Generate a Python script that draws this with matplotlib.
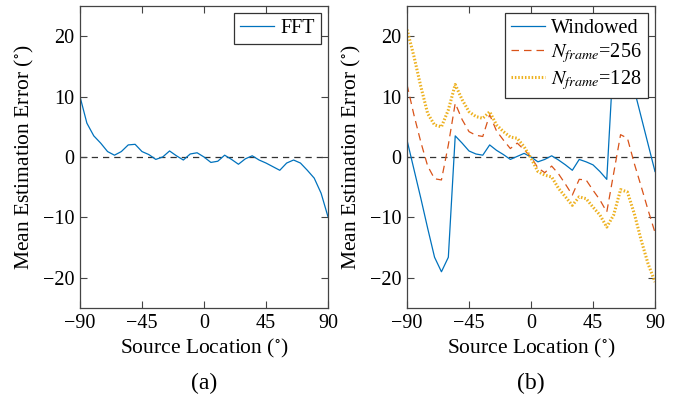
import matplotlib
matplotlib.use("Agg")
import matplotlib.pyplot as plt

plt.rcParams["font.family"] = ["Liberation Serif", "DejaVu Serif"]
plt.rcParams["mathtext.fontset"] = "stix"

# source locations (degrees), 5 degree steps
angles = list(range(-90, 91, 5))

# (a) FFT
fft_err = [10.0, 5.6, 3.5, 2.3, 0.9, 0.3, 0.9, 2.0, 2.1, 0.9,
           0.4, -0.4, 0.0, 1.0, 0.2, -0.5, 0.5, 0.7, 0.0, -0.9,
           -0.7, 0.3, -0.4, -1.2, -0.3, 0.2, -0.5, -1.0, -1.6, -2.2,
           -1.0, -0.5, -1.0, -2.2, -3.5, -6.0, -9.9]

# (b) windowed and framed
windowed = [2.8, -2.0, -6.8, -11.8, -16.6, -19.0, -16.6, 3.5, 2.3, 1.0,
            0.5, 0.3, 2.0, 1.1, 0.4, -0.4, 0.1, 0.6, 0.0, -0.8,
            -0.4, 0.2, -0.5, -1.3, -2.2, -0.4, -0.8, -1.3, -2.4, -3.7,
            17.0, 18.0, 15.6, 11.1, 6.6, 2.1, -2.4]
frame256 = [12.0, 7.0, 2.5, -1.5, -3.6, -3.8, 2.0, 8.9, 6.2, 4.2,
            3.6, 3.4, 7.0, 4.3, 2.8, 1.4, 2.3, 1.2, 0.0, -1.8,
            -2.6, -1.5, -2.8, -4.5, -6.3, -3.7, -3.8, -5.5, -7.1, -9.1,
            -2.7, 3.7, 3.1, -1.1, -4.9, -8.8, -12.5]
frame128 = [21.1, 16.7, 11.7, 7.2, 5.3, 5.0, 7.8, 12.0, 9.5, 7.5,
            6.7, 6.4, 7.5, 5.3, 4.2, 3.3, 3.1, 1.7, -0.2, -2.4,
            -3.0, -3.3, -5.2, -6.6, -8.0, -6.6, -6.9, -8.3, -9.6, -11.6,
            -9.6, -5.4, -5.8, -9.4, -13.8, -17.7, -20.7]

blue = "#0072BD"
orange = "#D95319"
yellow = "#EDB120"

fig = plt.figure(figsize=(6.89, 3.99), dpi=100)
ax_a = fig.add_axes([80 / 689, 91 / 399, 248 / 689, 302 / 399])
ax_b = fig.add_axes([407 / 689, 91 / 399, 248 / 689, 302 / 399])


def style_axes(ax):
    ax.set_xlim(-90, 90)
    ax.set_ylim(-25, 25)
    ax.set_xticks([-90, -45, 0, 45, 90])
    ax.set_yticks([-20, -10, 0, 10, 20])
    ax.tick_params(direction="in", top=True, right=True, length=5,
                   width=0.8, labelsize=14.5, color="#444444", pad=4)
    for s in ax.spines.values():
        s.set_color("#444444")
        s.set_linewidth(0.9)
    ax.axhline(0, color="#333333", linestyle=(0, (5, 4)), linewidth=0.9, zorder=1)
    ax.set_xlabel("Source Location ($^{\\circ}$)", fontsize=15.5, labelpad=3)
    ax.set_ylabel("Mean Estimation Error ($^{\\circ}$)", fontsize=15.5, labelpad=5)


style_axes(ax_a)
ax_a.plot(angles, fft_err, color=blue, linewidth=0.9, label="FFT")
leg = ax_a.legend(loc="upper right", fontsize=14.5, fancybox=False,
                  edgecolor="#333333", framealpha=1, borderaxespad=0.35,
                  handlelength=1.7, handletextpad=0.3, borderpad=0.3)
leg.get_frame().set_linewidth(0.9)

style_axes(ax_b)
ax_b.plot(angles, windowed, color=blue, linewidth=0.9, label="Windowed")
ax_b.plot(angles, frame256, color=orange, linewidth=0.9,
          linestyle=(0, (6, 4)), label="$N_{frame}$=256")
ax_b.plot(angles, frame128, color=yellow, linewidth=2.2,
          linestyle=(0, (0.5, 0.6)), label="$N_{frame}$=128")
leg = ax_b.legend(loc="upper right", fontsize=14.5, fancybox=False,
                  edgecolor="#333333", framealpha=1, borderaxespad=0.35,
                  handlelength=1.7, handletextpad=0.3, borderpad=0.3,
                  labelspacing=0.15)
leg.get_frame().set_linewidth(0.9)

fig.text(204 / 689, 1 - 383 / 399, "(a)", fontsize=17, ha="center", va="center")
fig.text(531 / 689, 1 - 383 / 399, "(b)", fontsize=17, ha="center", va="center")

fig.savefig("out.png", dpi=100)
